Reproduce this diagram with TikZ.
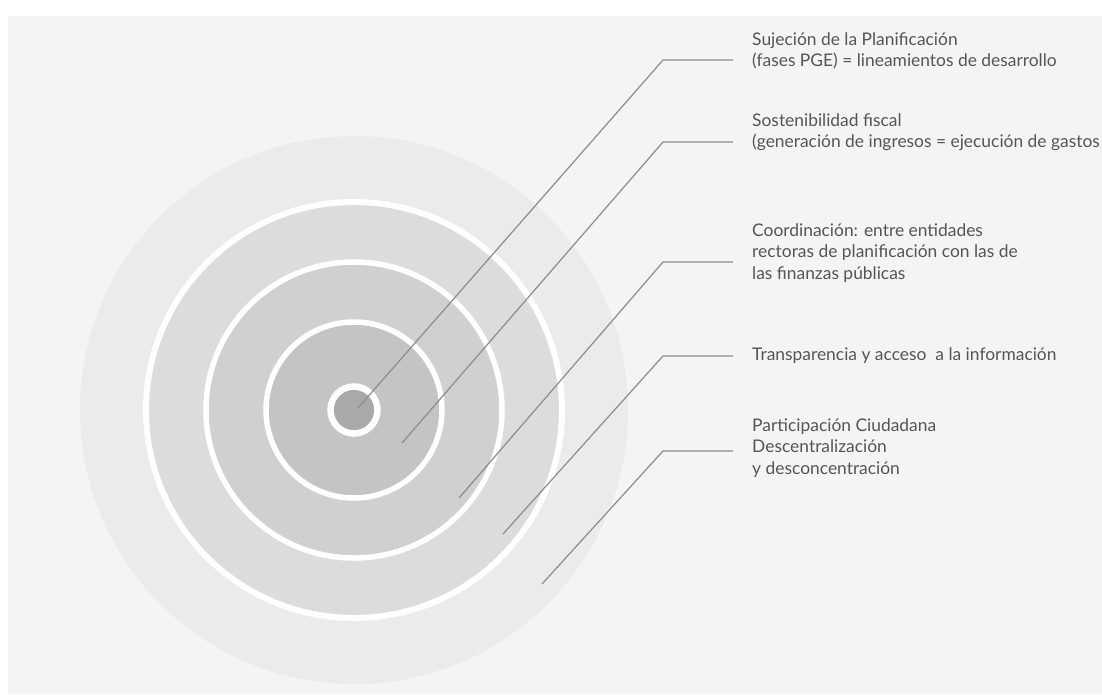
\documentclass[tikz,border=0pt]{standalone}
\usepackage{fontspec}
\setmainfont{Lato}
\definecolor{bggray}{HTML}{F4F4F4}
\definecolor{ringA}{HTML}{EBEBEB}
\definecolor{ringB}{HTML}{DCDCDC}
\definecolor{ringC}{HTML}{D0D0D0}
\definecolor{ringD}{HTML}{C4C4C4}
\definecolor{ringE}{HTML}{A9A9A9}
\definecolor{linegray}{HTML}{8C8C8C}
\definecolor{txtgray}{HTML}{555555}
\begin{document}
\begin{tikzpicture}[x=1pt,y=-1pt,
  lbl/.style={anchor=west,inner sep=0pt,align=left,text=txtgray,font=\fontsize{17.4}{21.5}\selectfont},
  conn/.style={draw=linegray,line width=1.2pt},
  disc/.style={draw=white}]
\useasboundingbox (0,0) rectangle (1102,694);
\clip (0,0) rectangle (1102,694);
\fill[white] (0,0) rectangle (1102,694);
\fill[bggray] (8,16) rectangle (1102,694);
% concentric circles
\coordinate (c) at (354,410);
\fill[ringA] (c) circle[radius=274];
\filldraw[disc,fill=ringB,line width=6pt] (c) circle[radius=208];
\filldraw[disc,fill=ringC,line width=5.5pt] (c) circle[radius=148];
\filldraw[disc,fill=ringD,line width=5.5pt] (c) circle[radius=88];
\filldraw[disc,fill=ringE,line width=6.5pt] (c) circle[radius=23.5];
% labels
\node[lbl] (t1) at (752,51) {Sujeción de la Planificación\\(fases PGE) = lineamientos de desarrollo};
\node[lbl] (t2) at (752,132) {Sostenibilidad fiscal\\(generación de ingresos = ejecución de gastos};
\node[lbl] (t3) at (752,253) {Coordinación: entre entidades\\rectoras de planificación con las de\\las finanzas públicas};
\node[lbl] (t4) at (752,356) {Transparencia y acceso~ a la información};
\node[lbl] (t5) at (752,448) {Participación Ciudadana\\Descentralización\\y desconcentración};
% connector points
\coordinate (e1) at (358,408);
\coordinate (k1) at (663,60);
\coordinate (h1) at (733,60);
\coordinate (e2) at (402,443);
\coordinate (k2) at (663,142);
\coordinate (h2) at (733,142);
\coordinate (e3) at (459,498);
\coordinate (k3) at (663,262);
\coordinate (h3) at (733,262);
\coordinate (e4) at (503,534);
\coordinate (k4) at (663,356);
\coordinate (h4) at (733,356);
\coordinate (e5) at (542,584);
\coordinate (k5) at (663,451);
\coordinate (h5) at (733,451);
\draw[conn] (e1) -- (k1) -- (h1);
\draw[conn] (e2) -- (k2) -- (h2);
\draw[conn] (e3) -- (k3) -- (h3);
\draw[conn] (e4) -- (k4) -- (h4);
\draw[conn] (e5) -- (k5) -- (h5);
\end{tikzpicture}
\end{document}
